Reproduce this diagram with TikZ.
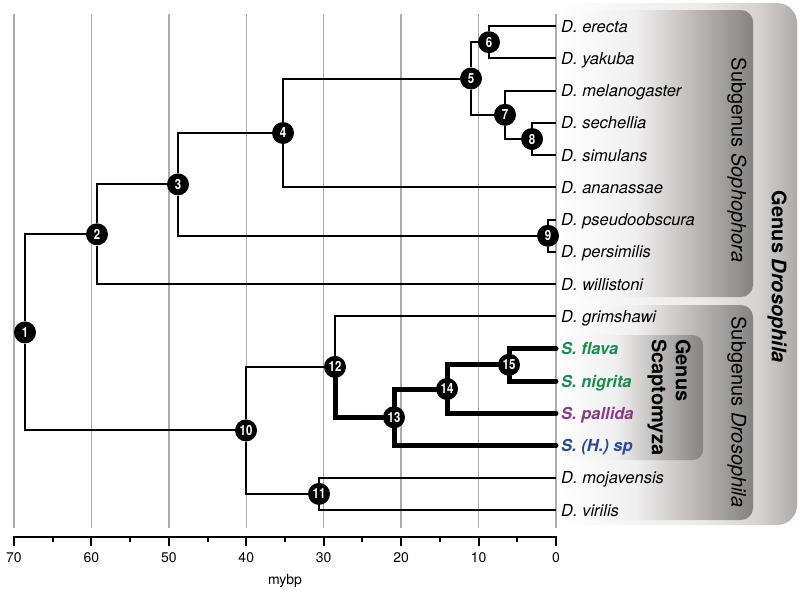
\documentclass[tikz,border=0pt]{standalone}
\usepackage{fontspec}
\setmainfont{TeX Gyre Heros}
\newfontfamily\splitfont[FakeStretch=0.82]{TeX Gyre Heros}
\definecolor{gridgray}{RGB}{172,172,172}
\definecolor{flavagreen}{RGB}{30,140,82}
\definecolor{pallidapurple}{RGB}{138,58,138}
\definecolor{hspblue}{RGB}{42,74,150}
\definecolor{outera}{RGB}{236,234,234}
\definecolor{outerb}{RGB}{214,210,210}
\definecolor{outerc}{RGB}{174,170,170}
\definecolor{innera}{RGB}{241,240,240}
\definecolor{innerb}{RGB}{200,196,196}
\definecolor{innerc}{RGB}{134,130,130}
\pgfdeclarehorizontalshading{outershade}{100bp}{color(0bp)=(white); color(25bp)=(white); color(55bp)=(outera); color(67bp)=(outerb); color(75bp)=(outerc); color(100bp)=(outerc)}
\pgfdeclarehorizontalshading{innershade}{100bp}{color(0bp)=(white); color(25bp)=(white); color(45bp)=(innera); color(57bp)=(innerb); color(75bp)=(innerc); color(100bp)=(innerc)}
\begin{document}
\begin{tikzpicture}[x=1pt, y=-1pt,
  branch/.style={line width=2pt},
  scap branch/.style={line width=5pt, line cap=round},
  split/.style={circle, fill=black, text=white, inner sep=0pt, minimum size=22pt, font=\fontsize{14}{15}\splitfont\bfseries},
  taxon/.style={anchor=west, inner xsep=5pt, inner ysep=0pt, text height=12pt, text depth=0pt, font=\fontsize{16.5}{19}\selectfont\itshape},
  scap taxon/.style={taxon, font=\fontsize{16.5}{19}\selectfont\bfseries\itshape},
  clade/.style={rotate=-90, inner sep=0pt, font=\fontsize{20}{24}\selectfont},
  gridline/.style={draw=gridgray, line width=1.5pt},
  axislabel/.style={font=\fontsize{14}{16}\selectfont}]
\useasboundingbox (0,0) rectangle (800,592);
% clade boxes
\shade[shading=outershade, rounded corners=20pt] (556,3) rectangle (797,525);
\shade[shading=innershade, rounded corners=12pt] (556,10) rectangle (753,297);
\shade[shading=innershade, rounded corners=12pt] (556,305) rectangle (753,520);
\shade[shading=innershade, rounded corners=10pt] (556,335) rectangle (703,460);
\node[clade, font=\fontsize{20}{24}\selectfont\bfseries] (genusdros) at (777,277) {Genus \textit{Drosophila}};
\node[clade] (subsoph) at (737,160) {Subgenus \textit{Sophophora}};
\node[clade] (subdros) at (737,412) {Subgenus \textit{Drosophila}};
\node[clade, align=left, anchor=north west, font=\fontsize{20}{24}\selectfont\bfseries] (genusscap) at (691,339) {Genus\\Scaptomyza};
% time grid and axis
\foreach \t in {0,10,...,70}
  \draw[gridline] ({556-7.743*\t},14) -- ({556-7.743*\t},528);
\draw[line width=2pt] (13,537) -- (557,537);
\foreach \t in {0,10,...,70} {
  \draw[line width=2pt] ({556-7.743*\t},536) -- ({556-7.743*\t},546);
  \node[axislabel] (tick\t) at ({556-7.743*\t},558) {\t};
}
\foreach \t in {5,15,...,65}
  \draw[line width=2pt] ({556-7.743*\t},536) -- ({556-7.743*\t},541.5);
\node[axislabel] (mybp) at (285,581) {mybp};
% species
\node[taxon] (erecta) at (556,26) {D. erecta};
\node[taxon] (yakuba) at (556,58.3) {D. yakuba};
\node[taxon] (melanogaster) at (556,90.5) {D. melanogaster};
\node[taxon] (sechellia) at (556,122.8) {D. sechellia};
\node[taxon] (simulans) at (556,155.1) {D. simulans};
\node[taxon] (ananassae) at (556,187.4) {D. ananassae};
\node[taxon] (pseudoobscura) at (556,219.6) {D. pseudoobscura};
\node[taxon] (persimilis) at (556,251.9) {D. persimilis};
\node[taxon] (willistoni) at (556,284.2) {D. willistoni};
\node[taxon] (grimshawi) at (556,316.4) {D. grimshawi};
\node[scap taxon, text=flavagreen] (flava) at (556,348.7) {S. flava};
\node[scap taxon, text=flavagreen] (nigrita) at (556,381) {S. nigrita};
\node[scap taxon, text=pallidapurple] (pallida) at (556,413.2) {S. pallida};
\node[scap taxon, text=hspblue] (hsp) at (556,445.5) {S. (H.) sp};
\node[taxon] (mojavensis) at (556,477.8) {D. mojavensis};
\node[taxon] (virilis) at (556,510) {D. virilis};
% splits
\node[split] (n1) at (25,332.4) {1};
\node[split] (n2) at (97,234.3) {2};
\node[split] (n3) at (178,184.4) {3};
\node[split] (n4) at (283,133) {4};
\node[split] (n5) at (471,78.5) {5};
\node[split] (n6) at (489,42.2) {6};
\node[split] (n7) at (505,114.8) {7};
\node[split] (n8) at (532,139) {8};
\node[split] (n9) at (548,235.8) {9};
\node[split] (n10) at (246,430.4) {10};
\node[split] (n11) at (319,493.9) {11};
\node[split] (n12) at (335,366.9) {12};
\node[split] (n13) at (394,417.3) {13};
\node[split] (n14) at (447,389) {14};
\node[split] (n15) at (509,364.8) {15};
% branches
\draw[branch] (n1) |- (n2);
\draw[branch] (n1) |- (n10);
\draw[branch] (n2) |- (n3);
\draw[branch] (n2) |- (willistoni);
\draw[branch] (n3) |- (n4);
\draw[branch] (n3) |- (n9);
\draw[branch] (n4) |- (n5);
\draw[branch] (n4) |- (ananassae);
\draw[branch] (n5) |- (n6);
\draw[branch] (n5) |- (n7);
\draw[branch] (n6) |- (erecta);
\draw[branch] (n6) |- (yakuba);
\draw[branch] (n7) |- (melanogaster);
\draw[branch] (n7) |- (n8);
\draw[branch] (n8) |- (sechellia);
\draw[branch] (n8) |- (simulans);
\draw[branch] (n9) |- (pseudoobscura);
\draw[branch] (n9) |- (persimilis);
\draw[branch] (n10) |- (n12);
\draw[branch] (n10) |- (n11);
\draw[branch] (n11) |- (mojavensis);
\draw[branch] (n11) |- (virilis);
\draw[branch] (n12) |- (grimshawi);
\draw[scap branch] (n12) |- (n13);
\draw[scap branch] (n13) |- (n14);
\draw[scap branch] (n13) |- (hsp);
\draw[scap branch] (n14) |- (n15);
\draw[scap branch] (n14) |- (pallida);
\draw[scap branch] (n15) |- (flava);
\draw[scap branch] (n15) |- (nigrita);
\end{tikzpicture}
\end{document}
